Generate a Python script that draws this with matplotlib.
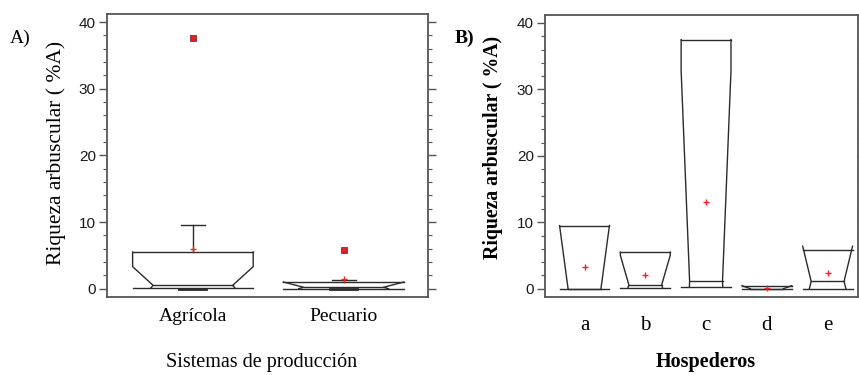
import numpy as np
import matplotlib
matplotlib.use("Agg")
import matplotlib.pyplot as plt

# Panel A: Sistemas de producción
sistemas = ["Agrícola", "Pecuario"]
a_q1 = [0.1, 0.0]
a_med = [0.5, 0.2]
a_q3 = [5.5, 1.0]
a_cilo = [-3.0, -0.6]
a_cihi = [3.3, 1.0]
a_whislo = [0.0, 0.0]
a_whishi = [9.5, 1.3]
a_mean = [6.0, 1.4]
a_fliers = [[37.6], [5.8]]

# Panel B: Hospederos
hospederos = ["a", "b", "c", "d", "e"]
b_q1 = [0.0, 0.1, 0.2, 0.0, 0.0]
b_med = [0.0, 0.6, 1.1, 0.0, 1.1]
b_q3 = [9.5, 5.5, 37.5, 0.45, 5.85]
b_cilo = [-9.0, -4.0, -30.0, -0.4, -4.0]
b_cihi = [9.5, 5.0, 32.8, 0.45, 6.4]
b_mean = [3.2, 2.05, 13.0, 0.05, 2.3]

LINE = "#2b2b2b"


def notched_box(ax, pos, q1, med, q3, cilo, cihi, hw, narrow=0.66):
    hn = hw * narrow
    for s in (-1, 1):
        xs, ys = [], []
        # upper part
        if cihi < q3:
            xs += [pos + s * hw, pos + s * hw]
            ys += [q3, cihi]
        else:
            xs += [pos + s * hw]
            ys += [cihi]
        xs.append(pos + s * hn)
        ys.append(med)
        # lower part
        if med > q1:
            if cilo > q1:
                xs += [pos + s * hw, pos + s * hw]
                ys += [cilo, q1]
            else:
                t = (med - q1) / (med - cilo)
                xs.append(pos + s * (hn + (hw - hn) * t))
                ys.append(q1)
        ax.plot(xs, ys, color=LINE, lw=1.0)
    ax.plot([pos - hw, pos + hw], [q3, q3], color=LINE, lw=1.0)
    ax.plot([pos - hw, pos + hw], [q1, q1], color=LINE, lw=1.0)
    ax.plot([pos - hn, pos + hn], [med, med], color=LINE, lw=1.0)


def style_axes(ax):
    for sp in ax.spines.values():
        sp.set_color("#555555")
        sp.set_linewidth(1.3)
    ax.set_ylim(-1.25, 41.2)
    ax.set_yticks([0, 10, 20, 30, 40])
    ax.set_yticks(np.arange(0, 41, 2), minor=True)
    ax.tick_params(axis="y", which="major", direction="out", length=6, width=1,
                   color="#555555", labelsize=11, labelcolor="#1a1a1a", pad=2,
                   right=True)
    ax.tick_params(axis="y", which="minor", direction="out", length=3, width=0.8,
                   color="#555555", right=True)
    for lab in ax.get_yticklabels():
        lab.set_fontfamily("Liberation Sans")


fig = plt.figure(figsize=(8.59, 3.75), dpi=100)
axA = fig.add_axes([107 / 859, 1 - 297 / 375, 321 / 859, 283 / 375])
axB = fig.add_axes([545 / 859, 1 - 297 / 375, 313 / 859, 282 / 375])

# ---- panel A
posA = np.arange(1, len(sistemas) + 1)
hwA = 0.40
for i, p in enumerate(posA):
    notched_box(axA, p, a_q1[i], a_med[i], a_q3[i], a_cilo[i], a_cihi[i], hwA)
    axA.plot([p, p], [a_q3[i], a_whishi[i]], color=LINE, lw=1.0)
    axA.plot([p - 0.08, p + 0.08], [a_whishi[i], a_whishi[i]], color=LINE, lw=1.0)
    axA.plot([p - 0.09, p + 0.09], [a_whislo[i], a_whislo[i]], color=LINE, lw=2.0)
    axA.plot([p] * len(a_fliers[i]), a_fliers[i], "s", ms=4, mfc="#e0202a",
             mec="#8a2a2a", mew=0.6)
    axA.plot(p, a_mean[i], "+", ms=4, color="#ff2020", mew=1.0)
axA.set_xlim(0.43, 2.56)
axA.set_xticks(posA)
axA.set_xticklabels(sistemas, family="Liberation Serif", fontsize=14)
axA.tick_params(axis="x", length=0, pad=8)
style_axes(axA)
axA.set_ylabel("Riqueza arbuscular ( %A)", family="Liberation Serif", fontsize=15.5)
axA.yaxis.set_label_coords(-0.128, 0.51)
axA.text(0.48, -0.23, "Sistemas de producción", transform=axA.transAxes,
         ha="center", va="center", family="Liberation Serif", fontsize=14.5)
fig.text(10 / 859, 1 - 38 / 375, "A)", ha="left", va="center",
         family="Liberation Serif", fontsize=14)

# ---- panel B
posB = np.arange(1, len(hospederos) + 1)
hwB = 0.41
for i, p in enumerate(posB):
    notched_box(axB, p, b_q1[i], b_med[i], b_q3[i], b_cilo[i], b_cihi[i], hwB)
    axB.plot(p, b_mean[i], "+", ms=4, color="#ff2020", mew=1.0)
axB.set_xlim(0.35, 5.5)
axB.set_xticks(posB)
axB.set_xticklabels(hospederos, family="Liberation Serif", fontsize=15)
axB.tick_params(axis="x", length=0, pad=14)
style_axes(axB)
axB.set_ylabel("Riqueza arbuscular ( %A)", family="Liberation Serif",
               fontsize=14.2, fontweight="bold")
axB.yaxis.set_label_coords(-0.133, 0.53)
axB.text(0.514, -0.23, "Hospederos", transform=axB.transAxes, ha="center",
         va="center", family="Liberation Serif", fontsize=14.5, fontweight="bold")
fig.text(455 / 859, 1 - 38 / 375, "B)", ha="left", va="center",
         family="Liberation Serif", fontsize=14, fontweight="bold")

fig.savefig("out.png", dpi=100)
